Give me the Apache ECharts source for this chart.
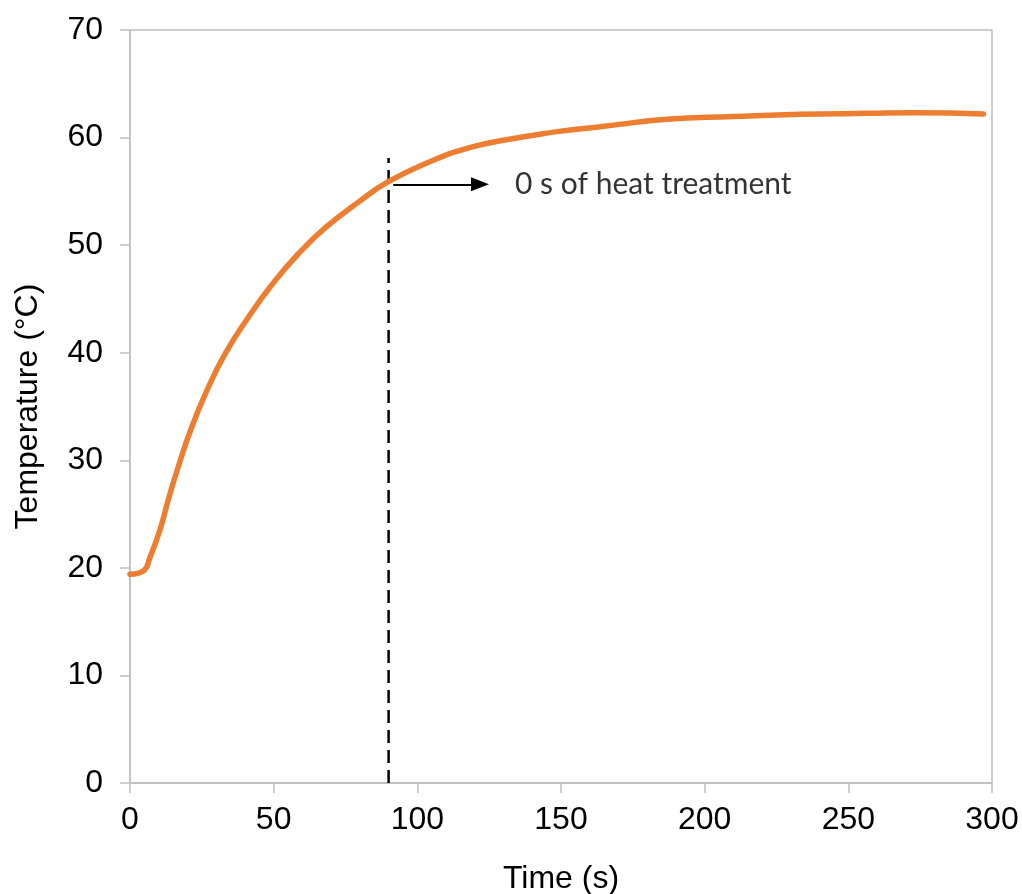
<!DOCTYPE html>
<html>
<head>
<meta charset="utf-8">
<script src="https://cdn.jsdelivr.net/npm/echarts@6/dist/echarts.min.js"></script>
<style>html,body{margin:0;padding:0;background:#fff;}#c{width:1022px;height:894px;}</style>
</head>
<body>
<div id="c"></div>
<script>
const timeS = [0, 4.6, 7, 10.4, 13.3, 16.8, 21.5, 27.3, 33.1, 41.2, 49.3, 58.6, 67.9, 79.5, 89.9, 105.6, 117.2, 128.8, 140, 150, 163.6, 186.8, 209.9, 233.2, 256.4, 273.8, 297];
const tempC = [19.4, 19.7, 21.0, 23.5, 26.3, 29.4, 33.1, 36.8, 39.9, 43.3, 46.3, 49.2, 51.6, 54.0, 55.9, 57.9, 59.0, 59.7, 60.2, 60.6, 61.0, 61.7, 61.95, 62.16, 62.25, 62.3, 62.2];
const markerTime = 90;
const markerTop = 58.1;
const arrowStart = [91.6, 55.65];
const arrowEnd = [121.8, 55.65];
const noteAt = [134, 55.65];
const noteText = '0 s of heat treatment';
const xTicks = {min: 0, max: 300, interval: 50};
const yTicks = {min: 0, max: 70, interval: 10};

const chart = echarts.init(document.getElementById('c'), null, {renderer: 'canvas'});
const axisColor = '#bfbfbf';
const lab = {color: '#000', fontFamily: 'Liberation Sans, Arial, sans-serif', fontSize: 32};

chart.setOption({
  animation: false,
  grid: {left: 130, top: 30, width: 862, height: 753, show: true, borderColor: axisColor, borderWidth: 1.5,
    containLabel: false, outerBoundsMode: 'none'},
  xAxis: {
    type: 'value', min: xTicks.min, max: xTicks.max, interval: xTicks.interval,
    name: 'Time (s)', nameLocation: 'middle', nameGap: 80,
    nameTextStyle: {color: '#000', fontFamily: 'Liberation Sans, Arial, sans-serif', fontSize: 32},
    axisLine: {show: true, lineStyle: {color: axisColor, width: 1.5}},
    axisTick: {show: true, length: 10, lineStyle: {color: axisColor, width: 1.5}},
    axisLabel: Object.assign({margin: 21}, lab),
    splitLine: {show: false}
  },
  yAxis: {
    type: 'value', min: yTicks.min, max: yTicks.max, interval: yTicks.interval,
    name: 'Temperature (°C)', nameLocation: 'middle', nameGap: 86, nameRotate: 90,
    nameTextStyle: {color: '#000', fontFamily: 'Liberation Sans, Arial, sans-serif', fontSize: 32},
    axisLine: {show: true, lineStyle: {color: axisColor, width: 1.5}},
    axisTick: {show: true, length: 10, lineStyle: {color: axisColor, width: 1.5}},
    axisLabel: Object.assign({margin: 27}, lab),
    splitLine: {show: false}
  },
  series: [
    {
      type: 'line', name: 'marker', silent: true, showSymbol: false, symbol: 'none',
      data: [[markerTime, 0], [markerTime, markerTop]],
      lineStyle: {color: '#000', width: 2.5, type: [13, 7]},
      z: 3
    },
    {
      type: 'line', name: 'temperature', smooth: 0.5, showSymbol: false, symbol: 'none',
      data: timeS.map((t, i) => [t, tempC[i]]),
      lineStyle: {color: '#ED7D31', width: 5.5, cap: 'round'},
      z: 4,
      markLine: {
        silent: true, animation: false,
        symbol: ['none', 'triangle'], symbolSize: [14, 18],
        lineStyle: {color: '#000', width: 2, type: 'solid'},
        label: {show: false},
        data: [[{coord: arrowStart}, {coord: arrowEnd}]]
      }
    },
    {
      type: 'scatter', name: 'note', silent: true, symbolSize: 0,
      data: [noteAt],
      label: {show: true, position: 'right', distance: 0, formatter: noteText,
        color: '#000', fontFamily: 'Lato, Carlito, Calibri, sans-serif', fontSize: 30},
      z: 5
    }
  ]
});
</script>
</body>
</html>
